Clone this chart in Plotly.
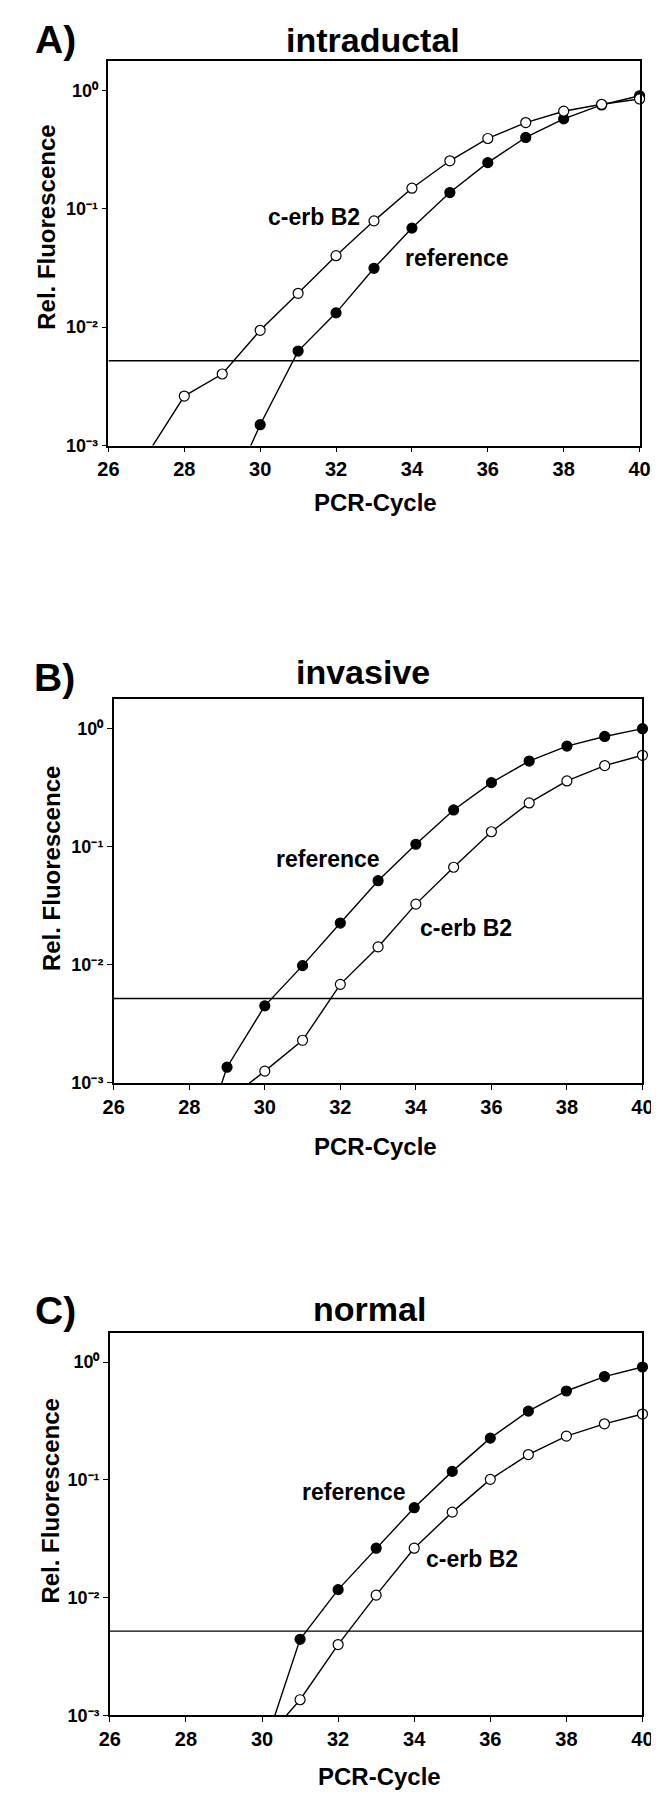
import plotly.graph_objects as go

# ---------------- data ----------------
x_ticks = [26, 28, 30, 32, 34, 36, 38, 40]
y_tickvals = [1e-3, 1e-2, 1e-1, 1e0]
y_ticktext = ["10\u207b\u00b3", "10\u207b\u00b2", "10\u207b\u00b9", "10\u2070"]
threshold = 0.0052

panel_letters = ["A)", "B)", "C)"]
panel_titles = ["intraductal", "invasive", "normal"]

# Panel A (intraductal)
A_cerb_cycles = [27, 28, 29, 30, 31, 32, 33, 34, 35, 36, 37, 38, 39, 40]
A_cerb = [8.2e-4, 2.62e-3, 4.02e-3, 9.4e-3, 0.0193, 0.0401, 0.079, 0.149,
          0.254, 0.392, 0.534, 0.666, 0.762, 0.845]
A_ref_cycles = [29, 30, 31, 32, 33, 34, 35, 36, 37, 38, 39, 40]
A_ref = [2.9e-4, 1.5e-3, 6.28e-3, 0.0132, 0.0314, 0.0686, 0.137, 0.245,
         0.40, 0.574, 0.752, 0.90]

# Panel B (invasive)
B_ref_cycles = [28, 29, 30, 31, 32, 33, 34, 35, 36, 37, 38, 39, 40]
B_ref = [1.5e-4, 1.36e-3, 4.5e-3, 9.86e-3, 0.0226, 0.0516, 0.105, 0.205,
         0.349, 0.532, 0.712, 0.859, 1.0]
B_cerb_cycles = [29, 30, 31, 32, 33, 34, 35, 36, 37, 38, 39, 40]
B_cerb = [7.1e-4, 1.26e-3, 2.3e-3, 6.84e-3, 0.0142, 0.0327, 0.0671, 0.134,
          0.235, 0.361, 0.487, 0.595]

# Panel C (normal)
C_ref_cycles = [30, 31, 32, 33, 34, 35, 36, 37, 38, 39, 40]
C_ref = [4.7e-4, 4.43e-3, 0.0117, 0.0263, 0.058, 0.118, 0.226, 0.383,
         0.568, 0.753, 0.908]
C_cerb_cycles = [30, 31, 32, 33, 34, 35, 36, 37, 38, 39, 40]
C_cerb = [5.8e-4, 1.36e-3, 4.0e-3, 0.0105, 0.0263, 0.0532, 0.101, 0.164,
          0.235, 0.299, 0.362]

# curve label positions (cycle, log10 value)
labels = [
    [("c-erb B2", 31.41, -1.067), ("reference", 35.2, -1.42)],
    [("reference", 31.68, -1.104), ("c-erb B2", 35.33, -1.69)],
    [("reference", 32.42, -1.10), ("c-erb B2", 35.52, -1.67)],
]

# ---------------- layout geometry (pixels) ----------------
W, H = 659, 1800
boxes = [  # left, right, top, bottom
    (92.5, 642, 53, 440),
    (98, 645, 695, 1081),
    (94, 645, 1332, 1717),
]
letter_pos = [(38, 32), (37, 673), (38, 1310)]
title_pos = [(366, 32), (356, 668), (363, 1308)]
ytitle_pos = [(29, 221), (33, 865), (33, 1501)]
xtitle_pos = [(369, 497), (369, 1145), (373, 1778)]

FONT = "Liberation Sans, Arial, Helvetica, sans-serif"


def px(x):
    return x / W


def py(y):
    return 1 - y / H


series = [
    ((A_ref_cycles, A_ref), (A_cerb_cycles, A_cerb)),
    ((B_ref_cycles, B_ref), (B_cerb_cycles, B_cerb)),
    ((C_ref_cycles, C_ref), (C_cerb_cycles, C_cerb)),
]

fig = go.Figure()
annotations = []

for i in range(3):
    sfx = "" if i == 0 else str(i + 1)
    xa, ya = "x" + sfx, "y" + sfx
    (rc, rv), (cc, cv) = series[i]

    # threshold line
    fig.add_trace(go.Scatter(x=[26, 40], y=[threshold, threshold], mode="lines",
                             line=dict(color="black", width=1.4),
                             xaxis=xa, yaxis=ya, showlegend=False, hoverinfo="skip"))
    for (cyc, val, fill) in [(rc, rv, "black"), (cc, cv, "white")]:
        fig.add_trace(go.Scatter(x=cyc, y=val, mode="lines",
                                 line=dict(color="black", width=1.4),
                                 xaxis=xa, yaxis=ya, showlegend=False))
        mx = [c for c, v in zip(cyc, val) if v >= 1e-3]
        my = [v for v in val if v >= 1e-3]
        fig.add_trace(go.Scatter(x=mx, y=my, mode="markers",
                                 marker=dict(symbol="circle", size=10, color=fill,
                                             line=dict(color="black", width=1.2)),
                                 cliponaxis=False,
                                 xaxis=xa, yaxis=ya, showlegend=False))

    l, r, t, b = boxes[i]
    axis_common = dict(showline=True, linecolor="black", linewidth=1.5, mirror=True,
                       showgrid=False, zeroline=False, ticks="outside", ticklen=5,
                       tickwidth=1.3, tickcolor="black")
    fig.layout["xaxis" + sfx] = dict(
        domain=[px(l), px(r)], anchor=ya, range=[26, 40],
        tickvals=x_ticks, ticktext=[str(v) for v in x_ticks],
        tickfont=dict(family=FONT, size=20, color="black", weight="bold"),
        **axis_common)
    fig.layout["yaxis" + sfx] = dict(
        domain=[py(b), py(t)], anchor=xa, type="log", range=[-3, 0.25],
        tickvals=y_tickvals, ticktext=y_ticktext,
        tickfont=dict(family=FONT, size=18, color="black", weight="bold"),
        **axis_common)

    bold_font = lambda s: dict(family=FONT, size=s, color="black", weight="bold")
    lx, ly = letter_pos[i]
    annotations.append(dict(text=panel_letters[i], x=px(lx), y=py(ly),
                            xref="paper", yref="paper",
                            showarrow=False, xanchor="center", yanchor="middle",
                            font=bold_font(39)))
    tx, ty = title_pos[i]
    annotations.append(dict(text=panel_titles[i], x=px(tx), y=py(ty),
                            xref="paper", yref="paper",
                            showarrow=False, xanchor="center", yanchor="middle",
                            font=bold_font(34)))
    yx, yy = ytitle_pos[i]
    annotations.append(dict(text="Rel. Fluorescence", x=px(yx), y=py(yy),
                            xref="paper", yref="paper",
                            showarrow=False, xanchor="center", yanchor="middle", textangle=-90,
                            font=bold_font(24)))
    xx, xy = xtitle_pos[i]
    annotations.append(dict(text="PCR-Cycle", x=px(xx), y=py(xy),
                            xref="paper", yref="paper",
                            showarrow=False, xanchor="center", yanchor="middle",
                            font=bold_font(24)))
    for (txt, cx, cy) in labels[i]:
        annotations.append(dict(text=txt, x=cx, y=cy, xref=xa, yref=ya,
                                showarrow=False, xanchor="center", yanchor="middle",
                                font=bold_font(23)))

fig.update_layout(width=W, height=H, margin=dict(l=0, r=0, t=0, b=0),
                  paper_bgcolor="white", plot_bgcolor="white",
                  annotations=annotations, showlegend=False)

fig.write_html("out.html")
